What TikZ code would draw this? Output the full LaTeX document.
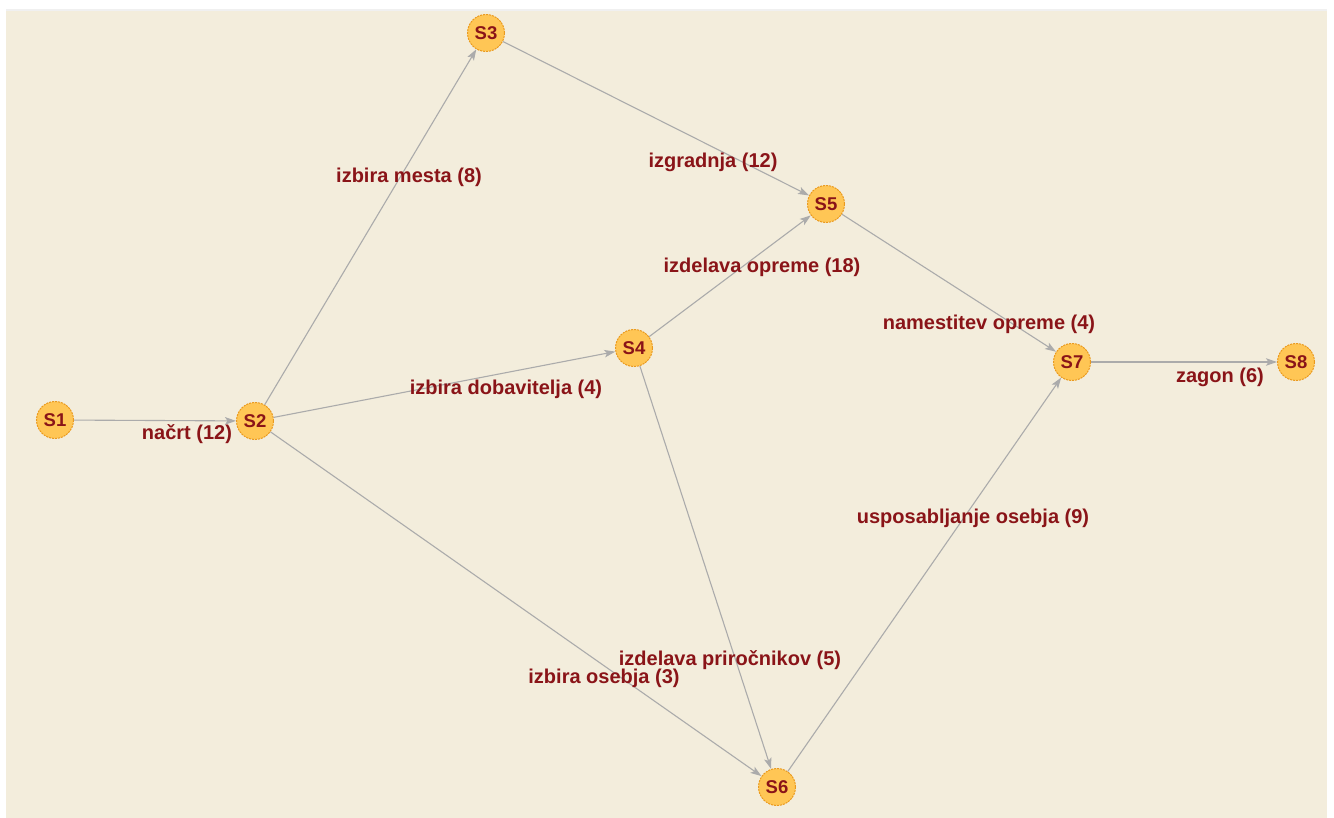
\documentclass[tikz,border=0pt]{standalone}
\usepackage{fontspec}
\setmainfont{Liberation Sans}
\usetikzlibrary{arrows.meta}
\definecolor{bg}{HTML}{F3EDDC}
\definecolor{nodefill}{HTML}{FFC655}
\definecolor{nodeline}{HTML}{EA9A1E}
\definecolor{txt}{HTML}{8A1418}
\definecolor{edge}{HTML}{ABABAB}
\tikzset{
  x=1pt, y=-1pt,
  vertex/.style={circle, fill=nodefill, draw=nodeline, line width=1pt,
    dash pattern=on 2pt off 1pt, minimum size=37pt, inner sep=0pt,
    font=\fontsize{18.5}{19}\selectfont\bfseries, text=txt},
  elabel/.style={anchor=base, inner sep=0pt, font=\fontsize{20}{22}\selectfont\bfseries, text=txt},
  conn/.style={draw=edge, line width=1.1pt, -{Stealth[length=11pt,width=7.5pt,inset=2.5pt]}}
}
\begin{document}
\begin{tikzpicture}
\useasboundingbox (0,0) rectangle (1334,818);
\fill[white] (0,0) rectangle (1334,818);
\fill[bg] (6,10) rectangle (1327,818);
\fill[black!6] (6,9) rectangle (1327,11);

\node[vertex] (S1) at (55,420) {S1};
\node[vertex] (S2) at (255,421) {S2};
\node[vertex] (S3) at (486,33) {S3};
\node[vertex] (S4) at (634,348) {S4};
\node[vertex] (S5) at (826,204) {S5};
\node[vertex] (S6) at (777,787) {S6};
\node[vertex] (S7) at (1072,362) {S7};
\node[vertex] (S8) at (1296,362) {S8};

\draw[conn] (S1) -- (S2);
\draw[conn] (S2) -- (S3);
\draw[conn] (S2) -- (S4);
\draw[conn] (S2) -- (S6);
\draw[conn] (S3) -- (S5);
\draw[conn] (S4) -- (S5);
\draw[conn] (S4) -- (S6);
\draw[conn] (S5) -- (S7);
\draw[conn] (S6) -- (S7);
\draw[conn] (S7) -- (S8);

\node[elabel] (l12) at (187,439) {načrt (12)};
\node[elabel] (l23) at (409,183) {izbira mesta (8)};
\node[elabel] (l35) at (713,168) {izgradnja (12)};
\node[elabel] (l45) at (762,273) {izdelava opreme (18)};
\node[elabel] (l24) at (506,395) {izbira dobavitelja (4)};
\node[elabel] (l57) at (989,330) {namestitev opreme (4)};
\node[elabel] (l78) at (1220,382) {zagon (6)};
\node[elabel] (l67) at (973,523) {usposabljanje osebja (9)};
\node[elabel] (l46) at (730,665) {izdelava priročnikov (5)};
\node[elabel] (l26) at (604,683) {izbira osebja (3)};
\end{tikzpicture}
\end{document}
